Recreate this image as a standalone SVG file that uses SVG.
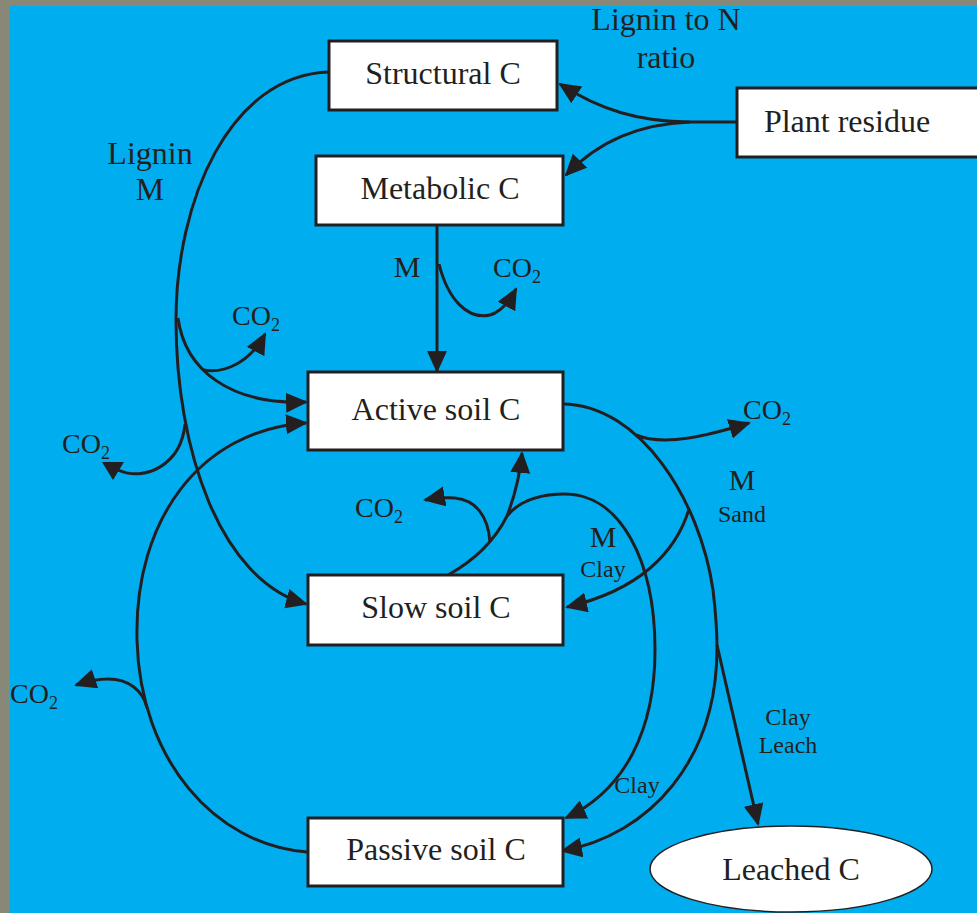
<svg xmlns="http://www.w3.org/2000/svg" width="977" height="913" viewBox="0 0 977 913">
<style>
.box{fill:#fff;stroke:#231f20;stroke-width:3}
.c{fill:none;stroke:#231f20;stroke-width:3;marker-end:url(#ah)}
.n{fill:none;stroke:#231f20;stroke-width:3}
text{font-family:"Liberation Serif","Times New Roman",serif;fill:#231f20}
.bt{font-size:32px;text-anchor:middle}
.lb{font-size:32px;text-anchor:middle}
.m{font-size:30px;text-anchor:middle}
.s{font-size:24px;text-anchor:middle}
.co{font-size:28px}
.sub{font-size:18px}
</style>
<defs>
<marker id="ah" markerUnits="userSpaceOnUse" markerWidth="24" markerHeight="22" refX="20" refY="10" orient="auto">
<path d="M0,0 L22,10 L0,20 z" fill="#231f20"/>
</marker>
</defs>
<rect x="0" y="0" width="977" height="913" fill="#888878"/>
<rect x="10" y="6" width="967" height="907" fill="#00aeef"/>

<g id="connectors">
<path class="n" d="M737,122 L690,122"/>
<path class="c" d="M690,122 C640,122 600,110 560,84"/>
<path class="c" d="M690,122 C640,124 600,140 566,175"/>
<path class="c" d="M437,226 L437,371"/>
<path class="c" d="M439,264 C448,300 468,320 490,315 C502,312 510,300 516,289"/>
<path class="n" d="M329,72 C230,75 176,200 176,320"/>
<path class="c" d="M176,320 C176,450 220,580 306,604"/>
<path class="c" d="M178,318 C185,370 230,405 306,402"/>
<path class="c" d="M203,370 C225,374 250,362 265,334"/>
<path class="n" d="M185,424 C181,465 145,482 118,470"/>
<polygon points="102,462 124,462 113,480" fill="#231f20"/>
<path class="n" d="M307,852 C215,845 140,760 137,640"/>
<path class="c" d="M137,640 C134,520 200,430 306,423"/>
<path class="c" d="M147,708 C143,690 128,679 108,679 C98,679 88,681 76,685"/>
<path class="n" d="M563,404 C640,405 700,500 713,590 C716,615 717,630 717,648"/>
<path class="c" d="M717,645 L758,824"/>
<path class="c" d="M717,648 C717,760 650,835 562,851"/>
<path class="c" d="M636,435 C665,447 710,435 749,423"/>
<path class="c" d="M689,509 C676,552 640,590 567,607"/>
<path class="n" d="M448,575 C475,560 495,540 507,516 C520,500 540,494 565,494 C620,494 655,560 655,650"/>
<path class="c" d="M655,650 C655,730 625,790 566,818"/>
<path class="c" d="M507,516 C515,495 520,475 522,453"/>
<path class="c" d="M490,542 C488,515 475,500 455,498 C445,497 436,498 425,500"/>
</g>

<g id="structural"><rect class="box" x="329" y="41" width="228" height="69"/><text class="bt" x="443" y="84">Structural C</text></g>
<g id="metabolic"><rect class="box" x="316" y="156" width="247" height="69"/><text class="bt" x="440" y="199">Metabolic C</text></g>
<g id="plant"><rect class="box" x="737" y="88" width="260" height="69"/><text class="bt" x="847" y="132">Plant residue</text></g>
<g id="active"><rect class="box" x="308" y="372" width="255" height="78"/><text class="bt" x="436" y="420">Active soil C</text></g>
<g id="slow"><rect class="box" x="308" y="575" width="255" height="70"/><text class="bt" x="436" y="618">Slow soil C</text></g>
<g id="passive"><rect class="box" x="308" y="818" width="255" height="68"/><text class="bt" x="436" y="860">Passive soil C</text></g>
<g id="leached"><ellipse cx="791" cy="869" rx="141" ry="43" fill="#fff" stroke="#231f20" stroke-width="1.5"/><text class="bt" x="791" y="880">Leached C</text></g>

<g id="labels">
<text class="lb" x="666" y="30">Lignin to N</text>
<text class="lb" x="666" y="68">ratio</text>
<text class="lb" x="150" y="164">Lignin</text>
<text class="lb" x="150" y="200">M</text>
<text class="m" x="407" y="277">M</text>
<text class="co" x="493" y="277">CO<tspan class="sub" dy="6">2</tspan></text>
<text class="co" x="232" y="325">CO<tspan class="sub" dy="6">2</tspan></text>
<text class="co" x="62" y="453">CO<tspan class="sub" dy="6">2</tspan></text>
<text class="co" x="355" y="517">CO<tspan class="sub" dy="6">2</tspan></text>
<text class="co" x="743" y="419">CO<tspan class="sub" dy="6">2</tspan></text>
<text class="co" x="10" y="703">CO<tspan class="sub" dy="6">2</tspan></text>
<text class="m" x="742" y="490">M</text>
<text class="s" x="742" y="522">Sand</text>
<text class="m" x="603" y="547">M</text>
<text class="s" x="603" y="577">Clay</text>
<text class="s" x="637" y="793">Clay</text>
<text class="s" x="788" y="725">Clay</text>
<text class="s" x="788" y="753">Leach</text>
</g>
</svg>
